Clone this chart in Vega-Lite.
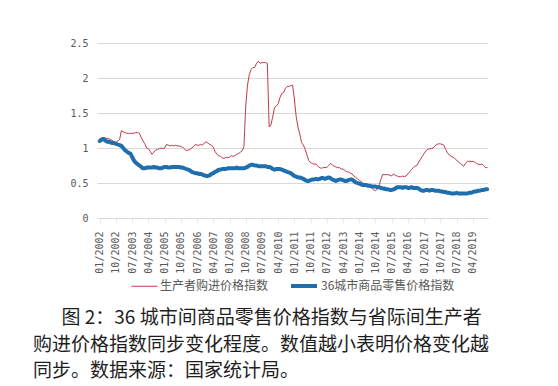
{
  "$schema": "https://vega.github.io/schema/vega-lite/v6.json",
  "width": 391,
  "height": 175,
  "autosize": {"type": "none"},
  "padding": {"left": 97, "top": 43, "right": 70, "bottom": 168},
  "background": "white",
  "config": {
    "view": {"stroke": null},
    "legend": {"layout": {"bottom": {"anchor": "middle"}}}
  },
  "title": {
    "text": ["\u200b\u3000\u2002图 2：36 城市间商品零售价格指数与省际间生产者", "购进价格指数同步变化程度。数值越小表明价格变化越", "同步。数据来源：国家统计局。"],
    "orient": "bottom",
    "anchor": "start",
    "frame": "group",
    "dx": -64,
    "offset": 15,
    "font": "Noto Sans CJK SC",
    "fontSize": 19,
    "fontWeight": "normal",
    "color": "#1e1e1e",
    "lineHeight": 26.5
  },
  "data": {"values": [
    {"d":"01/2002","p":1.13,"r":1.10},{"d":"02/2002","p":1.14,"r":1.12},{"d":"03/2002","p":1.14,"r":1.13},{"d":"04/2002","p":1.14,"r":1.11},{"d":"05/2002","p":1.14,"r":1.09},{"d":"06/2002","p":1.13,"r":1.09},{"d":"07/2002","p":1.12,"r":1.08},{"d":"08/2002","p":1.11,"r":1.07},{"d":"09/2002","p":1.09,"r":1.07},{"d":"10/2002","p":1.08,"r":1.06},{"d":"11/2002","p":1.10,"r":1.05},{"d":"12/2002","p":1.12,"r":1.04},
    {"d":"01/2003","p":1.25,"r":1.03},{"d":"02/2003","p":1.23,"r":1.00},{"d":"03/2003","p":1.22,"r":0.97},{"d":"04/2003","p":1.21,"r":0.95},{"d":"05/2003","p":1.21,"r":0.93},{"d":"06/2003","p":1.21,"r":0.92},{"d":"07/2003","p":1.21,"r":0.87},{"d":"08/2003","p":1.21,"r":0.82},{"d":"09/2003","p":1.22,"r":0.79},{"d":"10/2003","p":1.22,"r":0.77},{"d":"11/2003","p":1.21,"r":0.75},{"d":"12/2003","p":1.15,"r":0.73},
    {"d":"01/2004","p":1.10,"r":0.71},{"d":"02/2004","p":1.06,"r":0.71},{"d":"03/2004","p":1.00,"r":0.72},{"d":"04/2004","p":0.99,"r":0.72},{"d":"05/2004","p":0.95,"r":0.72},{"d":"06/2004","p":0.91,"r":0.72},{"d":"07/2004","p":0.94,"r":0.73},{"d":"08/2004","p":0.97,"r":0.72},{"d":"09/2004","p":0.98,"r":0.72},{"d":"10/2004","p":0.99,"r":0.71},{"d":"11/2004","p":1.00,"r":0.71},{"d":"12/2004","p":0.99,"r":0.72},
    {"d":"01/2005","p":1.00,"r":0.73},{"d":"02/2005","p":1.05,"r":0.73},{"d":"03/2005","p":1.04,"r":0.72},{"d":"04/2005","p":1.03,"r":0.72},{"d":"05/2005","p":1.04,"r":0.73},{"d":"06/2005","p":1.03,"r":0.73},{"d":"07/2005","p":1.04,"r":0.73},{"d":"08/2005","p":1.03,"r":0.73},{"d":"09/2005","p":1.03,"r":0.73},{"d":"10/2005","p":1.02,"r":0.72},{"d":"11/2005","p":1.01,"r":0.72},{"d":"12/2005","p":0.99,"r":0.71},
    {"d":"01/2006","p":0.96,"r":0.70},{"d":"02/2006","p":0.97,"r":0.69},{"d":"03/2006","p":0.98,"r":0.68},{"d":"04/2006","p":1.00,"r":0.66},{"d":"05/2006","p":1.02,"r":0.65},{"d":"06/2006","p":1.05,"r":0.64},{"d":"07/2006","p":1.04,"r":0.64},{"d":"08/2006","p":1.04,"r":0.63},{"d":"09/2006","p":1.05,"r":0.63},{"d":"10/2006","p":1.04,"r":0.62},{"d":"11/2006","p":1.07,"r":0.61},{"d":"12/2006","p":1.09,"r":0.60},
    {"d":"01/2007","p":1.07,"r":0.60},{"d":"02/2007","p":1.05,"r":0.61},{"d":"03/2007","p":1.04,"r":0.63},{"d":"04/2007","p":1.01,"r":0.64},{"d":"05/2007","p":0.95,"r":0.66},{"d":"06/2007","p":0.91,"r":0.67},{"d":"07/2007","p":0.89,"r":0.69},{"d":"08/2007","p":0.88,"r":0.69},{"d":"09/2007","p":0.86,"r":0.70},{"d":"10/2007","p":0.85,"r":0.70},{"d":"11/2007","p":0.87,"r":0.70},{"d":"12/2007","p":0.86,"r":0.71},
    {"d":"01/2008","p":0.87,"r":0.71},{"d":"02/2008","p":0.89,"r":0.71},{"d":"03/2008","p":0.88,"r":0.71},{"d":"04/2008","p":0.89,"r":0.71},{"d":"05/2008","p":0.91,"r":0.72},{"d":"06/2008","p":0.92,"r":0.71},{"d":"07/2008","p":0.94,"r":0.71},{"d":"08/2008","p":0.96,"r":0.71},{"d":"09/2008","p":1.02,"r":0.71},{"d":"10/2008","p":1.60,"r":0.72},{"d":"11/2008","p":1.90,"r":0.73},{"d":"12/2008","p":2.05,"r":0.75},
    {"d":"01/2009","p":2.12,"r":0.76},{"d":"02/2009","p":2.15,"r":0.76},{"d":"03/2009","p":2.15,"r":0.75},{"d":"04/2009","p":2.21,"r":0.75},{"d":"05/2009","p":2.24,"r":0.74},{"d":"06/2009","p":2.21,"r":0.74},{"d":"07/2009","p":2.22,"r":0.74},{"d":"08/2009","p":2.22,"r":0.74},{"d":"09/2009","p":2.22,"r":0.74},{"d":"10/2009","p":2.21,"r":0.73},{"d":"11/2009","p":1.30,"r":0.73},{"d":"12/2009","p":1.33,"r":0.72},
    {"d":"01/2010","p":1.45,"r":0.70},{"d":"02/2010","p":1.58,"r":0.69},{"d":"03/2010","p":1.60,"r":0.70},{"d":"04/2010","p":1.63,"r":0.70},{"d":"05/2010","p":1.72,"r":0.70},{"d":"06/2010","p":1.78,"r":0.69},{"d":"07/2010","p":1.79,"r":0.68},{"d":"08/2010","p":1.85,"r":0.67},{"d":"09/2010","p":1.88,"r":0.66},{"d":"10/2010","p":1.88,"r":0.65},{"d":"11/2010","p":1.89,"r":0.64},{"d":"12/2010","p":1.90,"r":0.62},
    {"d":"01/2011","p":1.70,"r":0.60},{"d":"02/2011","p":1.45,"r":0.59},{"d":"03/2011","p":1.30,"r":0.58},{"d":"04/2011","p":1.20,"r":0.58},{"d":"05/2011","p":1.08,"r":0.57},{"d":"06/2011","p":1.04,"r":0.56},{"d":"07/2011","p":0.98,"r":0.54},{"d":"08/2011","p":0.90,"r":0.53},{"d":"09/2011","p":0.82,"r":0.53},{"d":"10/2011","p":0.79,"r":0.54},{"d":"11/2011","p":0.78,"r":0.55},{"d":"12/2011","p":0.77,"r":0.55},
    {"d":"01/2012","p":0.77,"r":0.56},{"d":"02/2012","p":0.74,"r":0.55},{"d":"03/2012","p":0.72,"r":0.56},{"d":"04/2012","p":0.71,"r":0.57},{"d":"05/2012","p":0.72,"r":0.57},{"d":"06/2012","p":0.72,"r":0.56},{"d":"07/2012","p":0.72,"r":0.57},{"d":"08/2012","p":0.75,"r":0.58},{"d":"09/2012","p":0.78,"r":0.57},{"d":"10/2012","p":0.76,"r":0.55},{"d":"11/2012","p":0.74,"r":0.54},{"d":"12/2012","p":0.73,"r":0.53},
    {"d":"01/2013","p":0.72,"r":0.54},{"d":"02/2013","p":0.72,"r":0.55},{"d":"03/2013","p":0.70,"r":0.55},{"d":"04/2013","p":0.70,"r":0.54},{"d":"05/2013","p":0.68,"r":0.53},{"d":"06/2013","p":0.66,"r":0.53},{"d":"07/2013","p":0.66,"r":0.54},{"d":"08/2013","p":0.64,"r":0.55},{"d":"09/2013","p":0.63,"r":0.55},{"d":"10/2013","p":0.60,"r":0.53},{"d":"11/2013","p":0.58,"r":0.51},{"d":"12/2013","p":0.56,"r":0.50},
    {"d":"01/2014","p":0.54,"r":0.49},{"d":"02/2014","p":0.52,"r":0.48},{"d":"03/2014","p":0.50,"r":0.47},{"d":"04/2014","p":0.49,"r":0.47},{"d":"05/2014","p":0.48,"r":0.47},{"d":"06/2014","p":0.47,"r":0.46},{"d":"07/2014","p":0.46,"r":0.46},{"d":"08/2014","p":0.43,"r":0.45},{"d":"09/2014","p":0.40,"r":0.45},{"d":"10/2014","p":0.39,"r":0.45},{"d":"11/2014","p":0.41,"r":0.44},{"d":"12/2014","p":0.47,"r":0.44},
    {"d":"01/2015","p":0.55,"r":0.43},{"d":"02/2015","p":0.62,"r":0.42},{"d":"03/2015","p":0.62,"r":0.42},{"d":"04/2015","p":0.62,"r":0.41},{"d":"05/2015","p":0.62,"r":0.41},{"d":"06/2015","p":0.61,"r":0.40},{"d":"07/2015","p":0.60,"r":0.40},{"d":"08/2015","p":0.63,"r":0.41},{"d":"09/2015","p":0.61,"r":0.42},{"d":"10/2015","p":0.60,"r":0.44},{"d":"11/2015","p":0.59,"r":0.44},{"d":"12/2015","p":0.59,"r":0.44},
    {"d":"01/2016","p":0.60,"r":0.43},{"d":"02/2016","p":0.59,"r":0.44},{"d":"03/2016","p":0.60,"r":0.44},{"d":"04/2016","p":0.63,"r":0.43},{"d":"05/2016","p":0.66,"r":0.43},{"d":"06/2016","p":0.69,"r":0.44},{"d":"07/2016","p":0.72,"r":0.43},{"d":"08/2016","p":0.74,"r":0.43},{"d":"09/2016","p":0.75,"r":0.43},{"d":"10/2016","p":0.80,"r":0.42},{"d":"11/2016","p":0.84,"r":0.40},{"d":"12/2016","p":0.88,"r":0.39},
    {"d":"01/2017","p":0.92,"r":0.39},{"d":"02/2017","p":0.96,"r":0.40},{"d":"03/2017","p":0.98,"r":0.40},{"d":"04/2017","p":0.99,"r":0.39},{"d":"05/2017","p":0.99,"r":0.40},{"d":"06/2017","p":1.00,"r":0.40},{"d":"07/2017","p":1.03,"r":0.39},{"d":"08/2017","p":1.05,"r":0.39},{"d":"09/2017","p":1.06,"r":0.39},{"d":"10/2017","p":1.06,"r":0.38},{"d":"11/2017","p":1.05,"r":0.38},{"d":"12/2017","p":1.04,"r":0.37},
    {"d":"01/2018","p":0.98,"r":0.37},{"d":"02/2018","p":0.93,"r":0.36},{"d":"03/2018","p":0.90,"r":0.36},{"d":"04/2018","p":0.88,"r":0.35},{"d":"05/2018","p":0.87,"r":0.35},{"d":"06/2018","p":0.85,"r":0.35},{"d":"07/2018","p":0.83,"r":0.36},{"d":"08/2018","p":0.80,"r":0.35},{"d":"09/2018","p":0.78,"r":0.35},{"d":"10/2018","p":0.76,"r":0.35},{"d":"11/2018","p":0.74,"r":0.35},{"d":"12/2018","p":0.78,"r":0.35},
    {"d":"01/2019","p":0.81,"r":0.35},{"d":"02/2019","p":0.81,"r":0.36},{"d":"03/2019","p":0.81,"r":0.36},{"d":"04/2019","p":0.81,"r":0.37},{"d":"05/2019","p":0.80,"r":0.38},{"d":"06/2019","p":0.78,"r":0.38},{"d":"07/2019","p":0.77,"r":0.39},{"d":"08/2019","p":0.76,"r":0.39},{"d":"09/2019","p":0.77,"r":0.40},{"d":"10/2019","p":0.75,"r":0.40},{"d":"11/2019","p":0.72,"r":0.41},{"d":"12/2019","p":0.72,"r":0.41}
  ]},
  "transform": [{"fold": ["p", "r"], "as": ["s", "v"]}],
  "mark": {"type": "line", "strokeJoin": "round", "strokeCap": "round"},
  "encoding": {
    "x": {
      "field": "d",
      "type": "ordinal",
      "sort": null,
      "scale": {"type": "point", "padding": 1.82, "align": 0.77},
      "axis": {
        "title": null,
        "grid": false,
        "values": ["01/2002","10/2002","07/2003","04/2004","01/2005","10/2005","07/2006","04/2007","01/2008","10/2008","07/2009","04/2010","01/2011","10/2011","07/2012","04/2013","01/2014","10/2014","07/2015","04/2016","01/2017","10/2017","07/2018","04/2019"],
        "labelAngle": -90,
        "labelOverlap": false,
        "labelFont": "DejaVu Sans Mono",
        "labelFontSize": 10,
        "labelColor": "#595959",
        "labelPadding": 8,
        "domainColor": "#d9d9d9",
        "tickColor": "#e8e8e8",
        "tickSize": 5
      }
    },
    "y": {
      "field": "v",
      "type": "quantitative",
      "scale": {"domain": [0, 2.5]},
      "axis": {
        "title": null,
        "values": [0, 0.5, 1, 1.5, 2, 2.5],
        "format": "~g",
        "domain": false,
        "ticks": false,
        "gridColor": "#d9d9d9",
        "labelFont": "DejaVu Sans Mono",
        "labelFontSize": 10,
        "labelColor": "#595959",
        "labelPadding": 9
      }
    },
    "color": {
      "field": "s",
      "type": "nominal",
      "scale": {"domain": ["p", "r"], "range": ["#c23a4e", "#1f6fae"]},
      "legend": {
        "title": null,
        "orient": "bottom",
        "direction": "horizontal",
        "offset": -3,
        "padding": 0,
        "symbolType": "stroke",
        "symbolSize": 676,
        "labelOffset": 2,
        "columnPadding": 14,
        "labelFont": "Noto Sans CJK SC",
        "labelFontSize": 12,
        "labelColor": "#595959",
        "labelExpr": "datum.value === 'p' ? '生产者购进价格指数' : '36城市商品零售价格指数'",
        "encode": {"symbols": {"update": {"strokeWidth": {"signal": "datum.value === 'p' ? 1 : 4"}}}}
      }
    },
    "strokeWidth": {
      "field": "s",
      "type": "ordinal",
      "scale": {"domain": ["p", "r"], "range": [1, 4]},
      "legend": null
    }
  }
}
